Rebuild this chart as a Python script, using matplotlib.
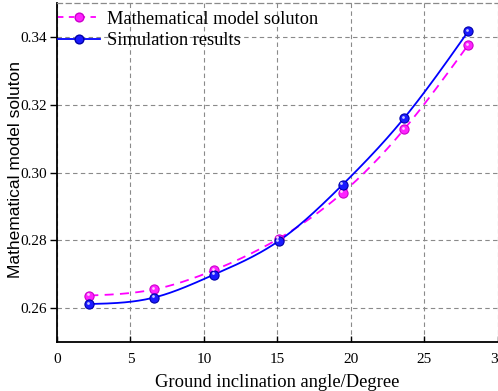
import numpy as np
import matplotlib
matplotlib.use("Agg")
import matplotlib.pyplot as plt
import matplotlib.transforms as mtransforms

angles = [2.2, 6.6, 10.7, 15.1, 19.45, 23.65, 28.0]
math_model = [0.2637, 0.2655, 0.2712, 0.2805, 0.2940, 0.3128, 0.3376]
simulation = [0.2612, 0.2631, 0.2699, 0.2798, 0.2964, 0.3161, 0.3416]
x_ticks = [0, 5, 10, 15, 20, 25, 30]
y_ticks = [0.26, 0.28, 0.30, 0.32, 0.34]


def natural_spline(x, y, n=300):
    x = np.asarray(x, float)
    y = np.asarray(y, float)
    m = len(x)
    h = np.diff(x)
    A = np.zeros((m, m))
    b = np.zeros(m)
    A[0, 0] = A[-1, -1] = 1
    for i in range(1, m - 1):
        A[i, i - 1] = h[i - 1]
        A[i, i] = 2 * (h[i - 1] + h[i])
        A[i, i + 1] = h[i]
        b[i] = 3 * ((y[i + 1] - y[i]) / h[i] - (y[i] - y[i - 1]) / h[i - 1])
    c = np.linalg.solve(A, b)
    xs = np.linspace(x[0], x[-1], n)
    ys = np.empty_like(xs)
    for k, xv in enumerate(xs):
        i = min(np.searchsorted(x, xv, side="right") - 1, m - 2)
        i = max(i, 0)
        bb = (y[i + 1] - y[i]) / h[i] - h[i] * (2 * c[i] + c[i + 1]) / 3
        d = (c[i + 1] - c[i]) / (3 * h[i])
        t = xv - x[i]
        ys[k] = y[i] + bb * t + c[i] * t ** 2 + d * t ** 3
    return xs, ys


serif = "Liberation Serif"
plt.rcParams["font.family"] = [serif, "DejaVu Serif"]

fig = plt.figure(figsize=(4.98, 3.91), dpi=100)
ax = fig.add_axes([57 / 498, 1 - 342 / 391, 440.5 / 498, 339 / 391])

magenta = "#ff00ff"
blue = "#0000ff"

xs, ys = natural_spline(angles, math_model)
ax.plot(xs, ys, color=magenta, lw=1.3, ls=(0, (5, 3.5)), zorder=3)
xs2, ys2 = natural_spline(angles, simulation)
ax.plot(xs2, ys2, color=blue, lw=1.3, zorder=3)

ms = 6.6
ax.plot(angles, math_model, ls="none", marker="o", ms=ms, mfc="#ff22ff",
        mec="#cc00cc", mew=0.8, zorder=4)
ax.plot(angles, simulation, ls="none", marker="o", ms=ms, mfc="#1a1aff",
        mec="#0000aa", mew=0.8, zorder=5)
off = mtransforms.ScaledTranslation(-1.0 / 72, 1.0 / 72, fig.dpi_scale_trans)
ax.plot(angles, math_model, ls="none", marker="o", ms=2.0, mfc="#ffd0ff",
        mec="none", transform=ax.transData + off, zorder=6)
ax.plot(angles, simulation, ls="none", marker="o", ms=2.0, mfc="#c8c8ff",
        mec="none", transform=ax.transData + off, zorder=6)

# legend proxies
h1, = ax.plot([], [], color=magenta, lw=1.3, ls=(0, (3, 3)), marker="o",
              ms=6.3, mfc="#ff22ff", mec="#cc00cc")
h2, = ax.plot([], [], color=blue, lw=1.3, marker="o", ms=6.3, mfc="#1a1aff",
              mec="#0000aa")
leg = ax.legend([h1, h2], ["Mathematical model soluton", "Simulation results"],
                loc="upper left", bbox_to_anchor=(-0.004, 1 - 5 / 339), frameon=False,
                fontsize=13.2, handlelength=2.3, handletextpad=0.38,
                labelspacing=0.25, borderpad=0.15, borderaxespad=0.0)

ax.set_xlim(0, 30)
ax.set_ylim(0.25, 0.35)
ax.set_xticks(x_ticks)
ax.set_yticks(y_ticks)
ax.set_xticklabels([str(v) for v in x_ticks])
ax.set_yticklabels([f"{v:.2f}" for v in y_ticks])
ax.tick_params(axis="x", direction="in", length=4, width=1, labelsize=11, pad=8)
ax.tick_params(axis="y", direction="out", length=5, width=1, labelsize=11, pad=2.5)

ax.grid(True, color="#8a8a8a", ls=(0, (4, 3)), lw=0.8)
ax.set_axisbelow(True)
for s in ["left", "bottom"]:
    ax.spines[s].set_linewidth(1.3)
    ax.spines[s].set_color("black")
ax.spines["top"].set_color("#8a8a8a")
ax.spines["top"].set_linestyle((0, (4, 3)))
ax.spines["top"].set_linewidth(0.9)
ax.spines["right"].set_visible(False)

ax.set_xlabel("Ground inclination angle/Degree", fontsize=13.3, labelpad=6)
ax.set_ylabel("Mathematical model soluton", fontsize=12.5,
              family=["Liberation Sans", "DejaVu Sans"])
ax.yaxis.set_label_coords(-0.078, 0.51)

fig.savefig("out.png", dpi=100)
